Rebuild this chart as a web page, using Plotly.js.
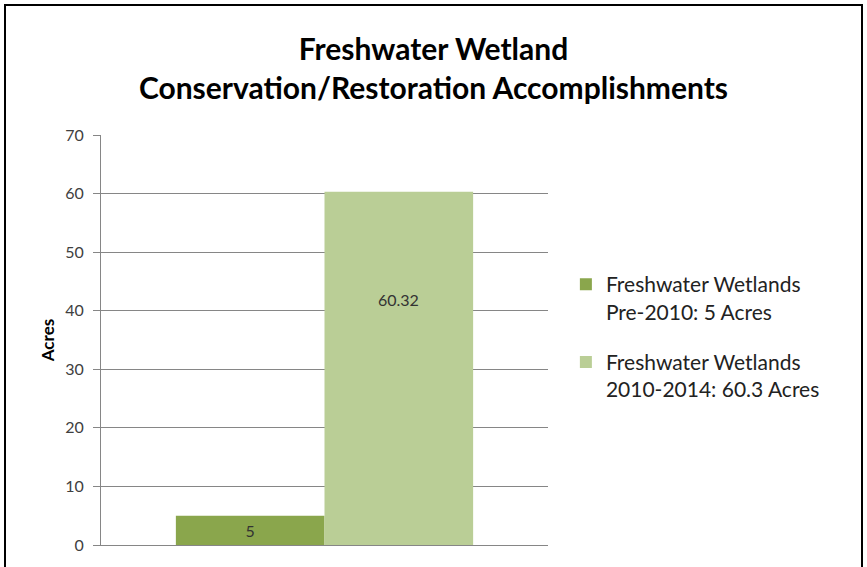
<!DOCTYPE html>
<html><head><meta charset="utf-8">
<script src="https://cdn.plot.ly/plotly-3.0.1.min.js"></script>
<style>
html,body{margin:0;padding:0;background:#fff;}
#wrap{position:relative;width:867px;height:567px;overflow:hidden;}
#chart{position:absolute;left:0;top:0;width:867px;height:567px;}
#frame{position:absolute;left:4px;top:4px;width:855px;height:580px;border:2px solid #000;pointer-events:none;}
</style></head>
<body><div id="wrap"><div id="chart"></div><div id="frame"></div></div>
<script>
const categories = [''];
const seriesNames = ['Freshwater Wetlands<br>Pre-2010: 5 Acres', 'Freshwater Wetlands<br>2010-2014: 60.3 Acres'];
const pre2010 = [5];
const y2010_2014 = [60.32];
const labelPre = ['5'];
const labelPost = ['60.32'];
const yTicks = [0, 10, 20, 30, 40, 50, 60, 70];

const font = 'Lato, "Open Sans", sans-serif';
const traces = [
  {type:'bar', x:categories, y:pre2010, name:seriesNames[0], legendgroup:'a', marker:{color:'#8AA64C'},
   text:labelPre, textposition:'inside', insidetextanchor:'middle', constraintext:'none',
   textfont:{family:font, size:16, color:'#333'}, hoverinfo:'y'},
  {type:'bar', x:categories, y:y2010_2014, name:seriesNames[1], legendgroup:'b', marker:{color:'#BACE96'},
   hoverinfo:'y'}
];
const layout = {
  width:867, height:567,
  margin:{l:101, r:319, t:135, b:22, pad:0},
  paper_bgcolor:'#fff', plot_bgcolor:'#fff',
  barmode:'group', bargap:0.335, bargroupgap:0,
  title:{text:'<b>Freshwater Wetland<br>Conservation/Restoration Accomplishments</b>',
         font:{family:font, size:30, color:'#000'}, x:0.5, xanchor:'center', y:0.895, yanchor:'middle'},
  font:{family:font, color:'#404040'},
  xaxis:{showticklabels:false, ticks:'', showgrid:false, zeroline:false,
         showline:true, linecolor:'#868686', linewidth:1},
  yaxis:{range:[0,70], tickvals:yTicks, ticks:'outside', ticklen:7, tickcolor:'#868686',
         ticklabelstandoff:6,
         showline:true, linecolor:'#868686', linewidth:1, gridcolor:'#868686', gridwidth:1,
         zeroline:false, tickfont:{family:font, size:16, color:'#404040'},
         title:{text:'<b>Acres</b>', font:{family:font, size:17, color:'#000'}, standoff:6}},
  legend:{x:1.04, xanchor:'left', y:0.685, yanchor:'top', valign:'top', traceorder:'grouped',
          font:{family:font, size:21, color:'#222'}, tracegroupgap:20,
          itemwidth:30, bgcolor:'rgba(0,0,0,0)'},
  showlegend:true,
  annotations:[{x:0, y:42, xref:'x', yref:'y', xshift:74, text:labelPost[0], showarrow:false,
                font:{family:font, size:16, color:'#333'}}]
};
Plotly.newPlot('chart', traces, layout, {displayModeBar:false, staticPlot:true});
</script></body></html>
